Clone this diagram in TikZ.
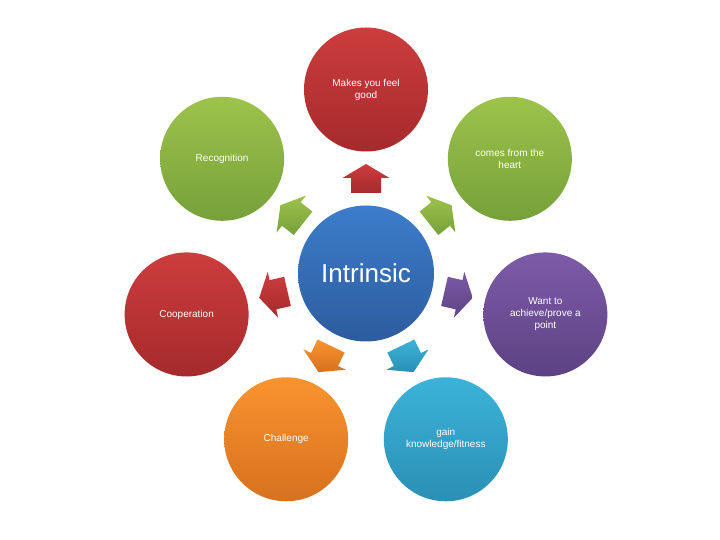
\documentclass[tikz,border=0pt]{standalone}
\usepackage{fontspec}
\setmainfont{Liberation Sans}
\begin{document}
\begin{tikzpicture}[x=1pt,y=1pt,
  bubble/.style={circle, minimum size=124pt, inner sep=0pt, align=center, text=white,
    font=\fontsize{10}{12}\selectfont},
  hub/.style={circle, minimum size=136pt, inner sep=0pt, text=white,
    font=\fontsize{26}{30}\selectfont}]
\definecolor{redT}{HTML}{CD3D3D}\definecolor{redB}{HTML}{A52A2C}
\definecolor{grnT}{HTML}{9DC34B}\definecolor{grnB}{HTML}{76A03A}
\definecolor{bluT}{HTML}{3C7DCB}\definecolor{bluB}{HTML}{2D5C9E}
\definecolor{purT}{HTML}{7E5BA8}\definecolor{purB}{HTML}{5C4283}
\definecolor{orT}{HTML}{F8942F}\definecolor{orB}{HTML}{D6711E}
\definecolor{cyT}{HTML}{3BB3D9}\definecolor{cyB}{HTML}{2B8FB4}
\useasboundingbox[fill=white] (0,0) rectangle (720,540);
\node[hub, top color=bluT, bottom color=bluB] (c) at (366,266.5) {Intrinsic};
\foreach \ang/\ct/\cb/\nm/\txt in {
  90/redT/redB/o1/{Makes you feel\\good},
  38.57/grnT/grnB/o2/{comes from the\\heart},
  -12.86/purT/purB/o3/{Want to\\achieve/prove a\\point},
  -64.29/cyT/cyB/o4/{gain\\knowledge/fitness},
  -115.71/orT/orB/o5/{Challenge},
  -167.14/redT/redB/o6/{Cooperation},
  141.43/grnT/grnB/o7/{Recognition}}{
  \node[bubble, top color=\ct, bottom color=\cb] (\nm) at ([shift={(\ang:184)}]c.center) {\txt};
  \begin{scope}[shift={([shift={(\ang:95)}]c.center)}, rotate=\ang-90]
    \shade[top color=\ct, bottom color=\cb]
      (-15,-14.5) -- (-15,0.5) -- (-23.5,0.5) -- (0,14.5) -- (23.5,0.5) -- (15,0.5) -- (15,-14.5) -- cycle;
  \end{scope}
}
\end{tikzpicture}
\end{document}
